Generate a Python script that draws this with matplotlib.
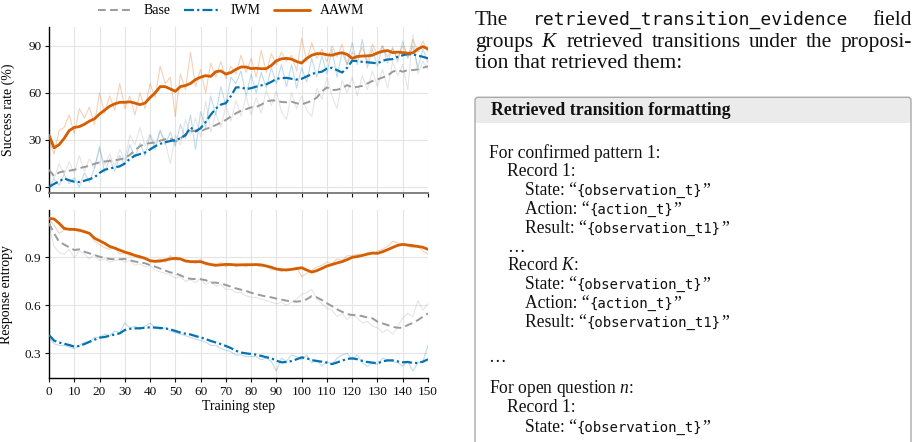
import numpy as np
import matplotlib
matplotlib.use("Agg")
import matplotlib.pyplot as plt
from matplotlib.patches import FancyBboxPatch
from matplotlib.font_manager import FontProperties

plt.rcParams['font.family'] = ['Liberation Serif', 'DejaVu Serif']
plt.rcParams['mathtext.fontset'] = 'custom'
plt.rcParams['mathtext.rm'] = 'Liberation Serif'
plt.rcParams['mathtext.it'] = 'Liberation Serif:italic'
plt.rcParams['mathtext.bf'] = 'Liberation Serif:bold'

# ---------------- data ----------------
steps = list(range(0, 151, 2))

succ_base_raw = [12, 5, 15, 8, 16, 9, 20, 10, 18, 12, 24, 14, 21, 13, 24, 17, 33, 27, 38, 26,
                 34, 27, 36, 29, 15, 33, 27, 43, 33, 44, 32, 55, 35, 47, 38, 52, 42, 55, 45, 58,
                 46, 57, 47, 62, 52, 61, 48, 43, 60, 50, 58, 49, 45, 63, 56, 70, 58, 50, 68, 60,
                 70, 58, 71, 62, 74, 64, 75, 63, 80, 71, 78, 62, 97, 72, 80, 75]
succ_base = [11, 7, 9.3, 10, 10.4, 11, 12, 12.8, 13.5, 14.8, 15.7, 16.3, 16.6, 17, 17.6, 18.4, 20.5, 23.5, 26, 27.5,
             28, 28.4, 29.5, 30.5, 31, 29, 31, 33.5, 35.5, 36, 35.4, 37, 38, 39.5, 41, 42.8, 44.9, 47, 48.6, 49.6,
             50.8, 51, 52.5, 54.5, 55.2, 55.1, 54.2, 54, 54.4, 53.4, 52.7, 53.8, 55, 57, 61, 63.5, 61.8, 62, 63, 65,
             63.5, 63.8, 64.5, 66, 67.6, 68.6, 69.8, 71, 73.5, 74.5, 73.5, 74.5, 74.5, 75, 76, 77]

succ_iwm_raw = [0, 5, 1, 8, 2, 6, 0, 9, 3, 12, 26, 9, 18, 10, 20, 14, 27, 19, 28, 20,
                33, 24, 36, 27, 35, 26, 40, 31, 46, 24, 48, 38, 58, 46, 64, 52, 70, 66, 74, 58,
                72, 60, 73, 63, 76, 66, 78, 64, 78, 63, 76, 67, 82, 70, 84, 72, 88, 70, 86, 78,
                92, 78, 94, 76, 88, 77, 90, 79, 89, 80, 93, 82, 90, 76, 88, 79]
succ_iwm = [0, 2, 3.6, 5.5, 4.3, 3.4, 3.2, 4, 5, 6.2, 9, 11, 11.8, 12.5, 13.2, 15, 18, 20, 21, 22,
            24, 26, 27.5, 28.6, 29.3, 30, 31, 33, 38, 35.5, 37.5, 41.5, 46, 50, 52.5, 53.5, 58, 63.5, 63.5, 62.5,
            63, 64, 64.8, 65.5, 67, 69, 69.4, 69.6, 69, 68.5, 69, 70.5, 72, 73, 73.5, 75.5, 76, 74.5, 73, 76,
            80.5, 80.3, 79.8, 79.5, 79.2, 78.8, 80.5, 81.3, 81.5, 83, 84, 84.7, 84.5, 83.8, 83, 82]

succ_aawm_raw = [30, 21, 36, 38, 46, 34, 50, 44, 51, 40, 60, 47, 58, 49, 66, 50, 58, 46, 60, 50,
                 66, 57, 77, 66, 70, 45, 72, 62, 86, 64, 75, 60, 79, 70, 80, 69, 77, 72, 84, 73,
                 82, 70, 87, 73, 85, 78, 86, 80, 84, 74, 95, 80, 92, 82, 88, 80, 90, 83, 91, 78,
                 86, 82, 89, 80, 91, 84, 90, 83, 88, 82, 90, 83, 94, 86, 93, 86]
succ_aawm = [33, 25, 27, 31, 36, 38, 38.5, 40, 42, 43.5, 46.5, 49, 51.5, 53, 54, 54, 54.3, 53.5, 52.5, 53.5,
             57, 60, 64, 64, 62.5, 61, 64, 64.7, 66, 68.5, 70, 71, 70.5, 73.5, 74, 72, 73, 75, 76.5, 76.5,
             75.5, 75.7, 75.4, 75.5, 77.5, 80.5, 81.7, 82, 81.5, 80, 79, 82, 84, 85, 85, 84.3, 84, 85, 85.6, 84.5,
             82, 83.2, 83.5, 83.6, 84, 85.5, 86.5, 87, 85.7, 86, 85.7, 85.3, 85.5, 88, 89.5, 88]

ent_base_raw = [1.10, 0.97, 0.93, 0.92, 0.95, 0.90, 0.94, 0.92, 0.89, 0.92, 0.88, 0.89, 0.87, 0.88, 0.89, 0.87,
                0.88, 0.85, 0.86, 0.84, 0.85, 0.82, 0.81, 0.80, 0.79, 0.77, 0.78, 0.75, 0.76, 0.74, 0.77, 0.73,
                0.75, 0.72, 0.73, 0.70, 0.70, 0.68, 0.68, 0.66, 0.65, 0.65, 0.64, 0.63, 0.62, 0.61, 0.62, 0.60,
                0.62, 0.64, 0.67, 0.68, 0.70, 0.64, 0.61, 0.58, 0.57, 0.53, 0.55, 0.51, 0.54, 0.52, 0.49, 0.50,
                0.47, 0.46, 0.43, 0.45, 0.42, 0.47, 0.52, 0.55, 0.53, 0.63, 0.57, 0.61]
ent_base = [1.113, 1.05, 0.998, 0.98, 0.963, 0.946, 0.95, 0.935, 0.925, 0.915, 0.904, 0.896, 0.89, 0.888, 0.888, 0.89,
            0.882, 0.874, 0.868, 0.863, 0.852, 0.842, 0.83, 0.818, 0.806, 0.8, 0.788, 0.773, 0.766, 0.764, 0.763, 0.758,
            0.742, 0.742, 0.738, 0.727, 0.717, 0.706, 0.698, 0.69, 0.679, 0.67, 0.662, 0.655, 0.65, 0.642, 0.636, 0.629,
            0.626, 0.623, 0.627, 0.638, 0.658, 0.65, 0.633, 0.613, 0.595, 0.575, 0.56, 0.545, 0.54, 0.54, 0.532, 0.525,
            0.519, 0.498, 0.487, 0.477, 0.466, 0.46, 0.46, 0.477, 0.49, 0.508, 0.529, 0.55]

ent_iwm_raw = [0.40, 0.36, 0.35, 0.35, 0.34, 0.33, 0.35, 0.37, 0.37, 0.40, 0.40, 0.42, 0.41, 0.44, 0.43, 0.49,
               0.46, 0.47, 0.45, 0.47, 0.49, 0.46, 0.45, 0.46, 0.44, 0.43, 0.42, 0.41, 0.40, 0.39, 0.38, 0.37,
               0.35, 0.35, 0.33, 0.32, 0.31, 0.29, 0.29, 0.28, 0.28, 0.28, 0.26, 0.27, 0.25, 0.19, 0.27, 0.25,
               0.29, 0.28, 0.26, 0.29, 0.24, 0.26, 0.22, 0.25, 0.23, 0.27, 0.29, 0.30, 0.26, 0.29, 0.24, 0.22,
               0.24, 0.23, 0.27, 0.26, 0.25, 0.24, 0.22, 0.25, 0.19, 0.24, 0.25, 0.35]
ent_iwm = [0.415, 0.38, 0.368, 0.36, 0.352, 0.342, 0.346, 0.358, 0.372, 0.385, 0.398, 0.402, 0.41, 0.418, 0.425, 0.446,
           0.453, 0.456, 0.457, 0.46, 0.463, 0.461, 0.459, 0.456, 0.45, 0.44, 0.43, 0.423, 0.418, 0.408, 0.4, 0.389,
           0.378, 0.368, 0.358, 0.346, 0.333, 0.316, 0.305, 0.3, 0.296, 0.292, 0.284, 0.276, 0.269, 0.254, 0.244, 0.246,
           0.252, 0.263, 0.275, 0.269, 0.258, 0.252, 0.248, 0.242, 0.233, 0.243, 0.255, 0.265, 0.269, 0.263, 0.253, 0.246,
           0.242, 0.238, 0.25, 0.256, 0.256, 0.25, 0.244, 0.246, 0.24, 0.24, 0.248, 0.263]

ent_aawm_raw = [1.14, 1.10, 1.05, 1.07, 1.08, 1.07, 1.06, 1.07, 1.05, 1.00, 0.98, 0.96, 0.95, 0.96, 0.92, 0.93,
                0.91, 0.91, 0.89, 0.90, 0.87, 0.88, 0.89, 0.87, 0.91, 0.88, 0.89, 0.87, 0.88, 0.86, 0.89, 0.85,
                0.86, 0.84, 0.87, 0.84, 0.86, 0.84, 0.86, 0.84, 0.86, 0.85, 0.84, 0.85, 0.82, 0.83, 0.81, 0.83,
                0.82, 0.84, 0.78, 0.80, 0.82, 0.84, 0.85, 0.87, 0.86, 0.89, 0.88, 0.91, 0.91, 0.92, 0.91, 0.93,
                0.92, 0.94, 0.95, 0.97, 1.00, 0.99, 0.98, 0.97, 0.96, 0.97, 0.94, 0.92]
ent_aawm = [1.144, 1.14, 1.113, 1.081, 1.075, 1.075, 1.07, 1.06, 1.05, 1.02, 1.004, 0.988, 0.968, 0.958, 0.945, 0.933,
            0.924, 0.912, 0.904, 0.894, 0.879, 0.875, 0.877, 0.883, 0.89, 0.894, 0.89, 0.878, 0.873, 0.873, 0.873, 0.863,
            0.855, 0.851, 0.853, 0.856, 0.855, 0.853, 0.853, 0.854, 0.854, 0.855, 0.853, 0.846, 0.838, 0.827, 0.823, 0.821,
            0.825, 0.83, 0.835, 0.821, 0.808, 0.817, 0.831, 0.846, 0.855, 0.865, 0.873, 0.886, 0.9, 0.905, 0.912, 0.92,
            0.927, 0.925, 0.935, 0.948, 0.962, 0.975, 0.981, 0.977, 0.973, 0.968, 0.963, 0.95]

method_names = ["Base", "IWM", "AAWM"]
x_ticks = list(range(0, 151, 10))
succ_ticks = [0, 30, 60, 90]
ent_ticks = [0.3, 0.6, 0.9]
ent_tick_labels = ["0.3", "0.6", "0.9"]

# ---------------- styling ----------------
W, H = 920, 442
C_BASE, C_IWM, C_AAWM = "#9a9a9a", "#0072B2", "#D55E00"
styles = {
    "Base": dict(color=C_BASE, lw=1.4, dashes=[4, 2.2]),
    "IWM": dict(color=C_IWM, lw=1.6, dashes=[4.5, 1.4, 1.0, 1.4]),
    "AAWM": dict(color=C_AAWM, lw=2.0),
}
raw_alpha = {"Base": 0.25, "IWM": 0.25, "AAWM": 0.28}

fig = plt.figure(figsize=(W / 100, H / 100), dpi=100)


def ax_rect(l, t, r, b):
    return [l / W, 1 - b / H, (r - l) / W, (b - t) / H]


ax1 = fig.add_axes(ax_rect(49, 27, 428, 193))
ax2 = fig.add_axes(ax_rect(49, 210, 428, 378))

top_series = {"Base": (succ_base_raw, succ_base), "IWM": (succ_iwm_raw, succ_iwm),
              "AAWM": (succ_aawm_raw, succ_aawm)}
bot_series = {"Base": (ent_base_raw, ent_base), "IWM": (ent_iwm_raw, ent_iwm),
              "AAWM": (ent_aawm_raw, ent_aawm)}

handles = []
for ax, series in ((ax1, top_series), (ax2, bot_series)):
    for name in method_names:
        raw, sm = series[name]
        ax.plot(steps, raw, color=styles[name]["color"], lw=0.8, alpha=raw_alpha[name], zorder=2)
    for name in method_names:
        raw, sm = series[name]
        st = styles[name]
        kw = dict(color=st["color"], lw=st["lw"], zorder=3, solid_capstyle="round")
        if "dashes" in st:
            kw["dashes"] = st["dashes"]
        ln, = ax.plot(steps, sm, label=name, **kw)
        if ax is ax1:
            handles.append(ln)

for ax in (ax1, ax2):
    ax.set_xlim(0, 150)
    ax.set_xticks(x_ticks)
    ax.grid(True, color="#e4e4e4", lw=0.8, zorder=0)
    ax.set_axisbelow(True)
    for s in ("top", "right"):
        ax.spines[s].set_visible(False)
    ax.spines["left"].set_linewidth(1.0)
    ax.spines["bottom"].set_linewidth(1.0)
    ax.tick_params(direction="out", length=3, width=0.8, labelsize=9.5, pad=2.5, colors="#111111")

ax1.set_ylim(-3.8, 102)
ax1.set_yticks(succ_ticks)
ax1.tick_params(axis="x", labelbottom=False)
ax1.spines["bottom"].set_color("#777777")
ax1.spines["bottom"].set_linewidth(1.3)
ax1.set_ylabel("Success rate (%)", fontsize=10)
ax1.yaxis.set_label_coords(-0.09, 0.5)

ax2.set_ylim(0.146, 1.196)
ax2.set_yticks(ent_ticks)
ax2.set_yticklabels(ent_tick_labels)
ax2.set_ylabel("Response entropy", fontsize=10)
ax2.yaxis.set_label_coords(-0.096, 0.5)
ax2.set_xlabel("Training step", fontsize=10, labelpad=2)

fig.legend(handles=handles, labels=method_names, loc="center", ncol=3, frameon=False,
           bbox_to_anchor=(231 / W, 1 - 11 / H), fontsize=10, handlelength=2.6,
           handletextpad=0.7, columnspacing=1.0, borderaxespad=0)

# ---------------- right-hand text panel ----------------
axo = fig.add_axes([0, 0, 1, 1], zorder=-1)
axo.set_xlim(0, W)
axo.set_ylim(H, 0)
axo.axis("off")

renderer = fig.canvas.get_renderer()


def text_width(s, fp):
    t = axo.text(0, 0, s, fontproperties=fp)
    w = t.get_window_extent(renderer).width
    t.remove()
    return w


def fit(s, family, target, weight="normal"):
    fp = FontProperties(family=family, size=10, weight=weight)
    w = text_width(s, fp)
    return FontProperties(family=family, size=10 * target / w, weight=weight)


fp_body = fit("tion that retrieved them:", ["Liberation Serif"], 207)
fp_body_mono = fit("retrieved_transition_evidence", ["DejaVu Sans Mono"], 315)
fp_head = fit("Retrieved transition formatting", ["Liberation Serif"], 239, weight="bold")
fp_box = fit("For confirmed pattern 1:", ["Liberation Serif"], 172.4)
fp_box_mono = fit("{observation_t}", ["DejaVu Sans Mono"], 127)


def justify(pieces, x0, x1, y):
    widths = [text_width(s, fp) for s, fp in pieces]
    gap = (x1 - x0 - sum(widths)) / (len(pieces) - 1)
    x = x0
    for (s, fp), w in zip(pieces, widths):
        axo.text(x, y, s, fontproperties=fp, ha="left", va="baseline", color="#111111")
        x += w + gap


def run(x, y, pieces):
    for s, fp in pieces:
        t = axo.text(x, y, s, fontproperties=fp, ha="left", va="baseline", color="#111111")
        x += t.get_window_extent(renderer).width


justify([("The", fp_body), ("retrieved_transition_evidence", fp_body_mono), ("field", fp_body)],
        475, 911.7, 25)
justify([(w, fp_body) for w in ["groups", "$K$", "retrieved", "transitions", "under", "the", "proposi-"]],
        475, 911.7, 46.7)
run(475, 68.3, [("tion that retrieved them:", fp_body)])

# box
box_l, box_r, box_t, head_b = 475, 911, 97.3, 123.3
axo.add_patch(FancyBboxPatch((box_l, box_t), box_r - box_l, head_b - box_t + 4,
                             boxstyle="round,pad=0,rounding_size=3", fc="#ebebeb", ec="none", zorder=1))
axo.add_patch(plt.Rectangle((box_l, head_b - 4), box_r - box_l, 4, fc="#ebebeb", ec="none", zorder=1))
axo.add_patch(plt.Rectangle((box_l, head_b), box_r - box_l, 400, fc="white", ec="none", zorder=1))
axo.add_patch(FancyBboxPatch((box_l, box_t), box_r - box_l, 420,
                             boxstyle="round,pad=0,rounding_size=3", fc="none", ec="#a9a9a9", lw=1.0, zorder=2))

axo.text(490.7, 115, "Retrieved transition formatting", fontproperties=fp_head,
         ha="left", va="baseline", color="#111111", zorder=3)

L0, L1, L2 = 489.3, 506.7, 525
OQ, CQ = "\u201c", "\u201d"
lines = [
    (L0, 157.7, [("For confirmed pattern 1:", fp_box)]),
    (L1, 176.0, [("Record 1:", fp_box)]),
    (L2, 195.0, [("State: " + OQ, fp_box), ("{observation_t}", fp_box_mono), (CQ, fp_box)]),
    (L2, 214.0, [("Action: " + OQ, fp_box), ("{action_t}", fp_box_mono), (CQ, fp_box)]),
    (L2, 232.7, [("Result: " + OQ, fp_box), ("{observation_t1}", fp_box_mono), (CQ, fp_box)]),
    (L1, 251.7, [("\u2026", fp_box)]),
    (L1, 270.0, [("Record $K$:", fp_box)]),
    (L2, 289.3, [("State: " + OQ, fp_box), ("{observation_t}", fp_box_mono), (CQ, fp_box)]),
    (L2, 308.3, [("Action: " + OQ, fp_box), ("{action_t}", fp_box_mono), (CQ, fp_box)]),
    (L2, 327.3, [("Result: " + OQ, fp_box), ("{observation_t1}", fp_box_mono), (CQ, fp_box)]),
    (488.0, 361.7, [("\u2026", fp_box)]),
    (L0, 393.3, [("For open question $n$:", fp_box)]),
    (L1, 411.7, [("Record 1:", fp_box)]),
    (L2, 431.7, [("State: " + OQ, fp_box), ("{observation_t}", fp_box_mono), (CQ, fp_box)]),
]
for x, y, pieces in lines:
    run(x, y, pieces)

fig.savefig("out.png", dpi=100)
